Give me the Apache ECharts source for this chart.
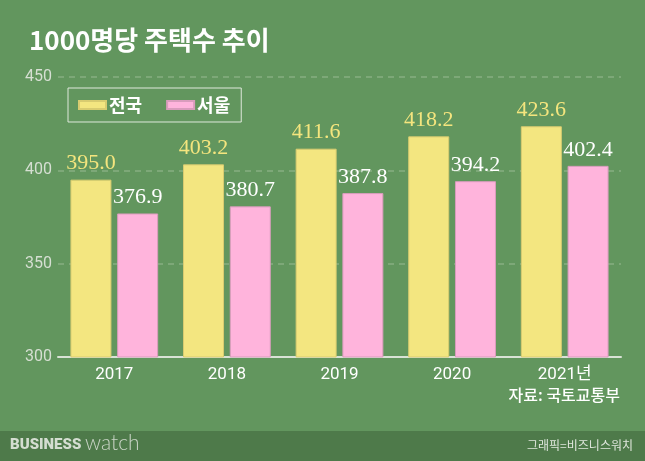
<!DOCTYPE html>
<html><head><meta charset="utf-8">
<script src="https://cdn.jsdelivr.net/npm/echarts@6/dist/echarts.min.js"></script>
<style>html,body{margin:0;padding:0;background:#62965e;}#c{width:645px;height:461px;}</style>
</head><body><div id="c"></div>
<script>
var categories = ['2017', '2018', '2019', '2020', '2021년'];
var nationalValues = [395.0, 403.2, 411.6, 418.2, 423.6];
var seoulValues = [376.9, 380.7, 387.8, 394.2, 402.4];
var seriesNames = ['전국', '서울'];
var yTicks = [300, 350, 400, 450];

var chart = echarts.init(document.getElementById('c'));
var KR = '"Noto Sans CJK KR", "Noto Sans", sans-serif';
var SERIF = '"Liberation Serif", "DejaVu Serif", serif';
chart.setOption({
  backgroundColor: '#62965e',
  animation: false,
  title: {
    text: '1000명당 주택수 추이', left: 24, top: 22,
    textStyle: { color: '#ffffff', fontSize: 26, fontWeight: 'bold', fontFamily: KR }
  },
  legend: {
    data: seriesNames, orient: 'horizontal', left: 68, top: 88,
    padding: [8, 11, 8, 10], itemGap: 24,
    borderColor: '#dfe8dc', borderWidth: 1, borderRadius: 0,
    itemWidth: 27, itemHeight: 8, icon: 'rect',
    textStyle: { color: '#ffffff', fontSize: 18, fontWeight: 'bold', fontFamily: KR, padding: [0,0,0,-2] }
  },
  grid: { left: 58, right: 24, top: 77, bottom: 104 },
  xAxis: {
    type: 'category', data: categories,
    axisLine: { lineStyle: { color: '#d9e2d6', width: 2 } },
    axisTick: { show: false },
    axisLabel: { color: '#ffffff', fontSize: 17, fontFamily: '"Roboto", "Noto Sans CJK KR", sans-serif', margin: 9 }
  },
  yAxis: {
    type: 'value', min: yTicks[0], max: yTicks[yTicks.length - 1], interval: 50,
    axisLine: { show: false }, axisTick: { show: false },
    axisLabel: { color: '#d6dfd3', fontSize: 16, fontFamily: '"Roboto", sans-serif', margin: 6 },
    splitLine: { lineStyle: { color: '#86ae81', type: [6, 5], width: 1.5 } }
  },
  series: [
    { name: seriesNames[0], type: 'bar', data: nationalValues, barWidth: 41, barGap: '14%',
      itemStyle: { color: '#f3e680', borderColor: '#d8cc70', borderWidth: 1 },
      label: { show: true, position: 'top', distance: 5, color: '#f4e57e', fontSize: 22, fontFamily: SERIF,
        formatter: function (p) { return p.value.toFixed(1); } } },
    { name: seriesNames[1], type: 'bar', data: seoulValues, barWidth: 41,
      itemStyle: { color: '#ffb4dc', borderColor: '#d99cbc', borderWidth: 1 },
      label: { show: true, position: 'top', distance: 5, color: '#ffffff', fontSize: 22, fontFamily: SERIF,
        formatter: function (p) { return p.value.toFixed(1); } } }
  ],
  graphic: [
    { type: 'text', right: 25, top: 387, style: { text: '자료: 국토교통부', fill: '#ffffff', font: '500 16px "Noto Sans CJK KR", sans-serif' } },
    { type: 'rect', left: 0, top: 431, shape: { width: 645, height: 30 }, style: { fill: '#4e7a4a' } },
    { type: 'text', left: 10, top: 438, style: { text: 'BUSINESS', fill: '#d4ddd1', font: '900 15px "Roboto", "DejaVu Sans", sans-serif' } },
    { type: 'text', left: 85, top: 433, style: { text: 'watch', fill: '#c9d4c6', font: '300 21px "Lato", "Roboto", sans-serif' } },
    { type: 'text', right: 12, top: 439, style: { text: '그래픽=비즈니스워치', fill: '#dfe6dc', font: '12px "Noto Sans CJK KR", sans-serif' } }
  ]
});
</script></body></html>
